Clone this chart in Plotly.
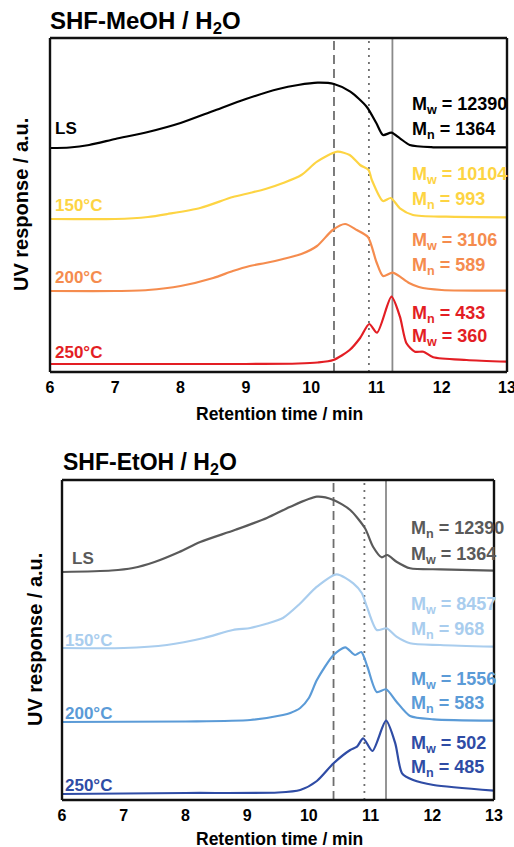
import plotly.graph_objects as go

FONT = "Liberation Sans, Arial, sans-serif"

# ---------------- Top panel: SHF-MeOH / H2O ----------------
top_ls_x = [6, 6.3, 6.6, 7.0, 7.5, 8.0, 8.5, 9.0, 9.5, 9.8, 10.1, 10.35, 10.6, 10.85, 11.0, 11.1, 11.23, 11.36, 11.51, 11.87, 12.5, 13]
top_ls_y = [224, 224.5, 227, 233, 240, 249, 261, 273, 283, 287, 289.3, 288, 280.3, 265.3, 248.7, 237, 239.3, 233.7, 227, 224.7, 224.7, 224.7]

top_150_x = [6, 7, 7.5, 7.8, 8.3, 8.8, 9.06, 9.3, 9.57, 9.85, 10.09, 10.4, 10.59, 10.75, 10.88, 10.93, 11.1, 11.22, 11.36, 11.56, 12.07, 13]
top_150_y = [153, 153, 155, 158, 164, 175, 179, 183, 189, 197, 210.3, 220.3, 217, 207, 202, 192, 171, 174, 163.7, 157, 155.3, 154.7]

top_200_x = [6, 7, 7.5, 8.0, 8.5, 8.8, 9.06, 9.3, 9.57, 9.85, 10.09, 10.33, 10.52, 10.7, 10.87, 11.0, 11.1, 11.25, 11.5, 11.65, 12, 13]
top_200_y = [81, 81, 82, 86, 94, 101, 106, 109, 113, 118, 126, 142, 148, 142, 135, 110, 96, 99.3, 89, 85, 82, 81.3]

top_250_x = [6, 9, 9.8, 10.1, 10.34, 10.59, 10.75, 10.89, 11.01, 11.23, 11.36, 11.46, 11.59, 11.72, 11.87, 12.38, 13]
top_250_y = [8, 8, 8.5, 9.5, 12, 22, 34, 48, 39.3, 75.3, 55.3, 28.7, 20.3, 20.3, 14.7, 12, 10.3]

top_names = ["LS", "150°C", "200°C", "250°C"]
top_colors = ["#000000", "#FDD443", "#F58C4E", "#E31E24"]
top_mass_1 = ["M<sub>w</sub> = 12390", "M<sub>w</sub> = 10104", "M<sub>w</sub> = 3106", "M<sub>n</sub> = 433"]
top_mass_2 = ["M<sub>n</sub> = 1364", "M<sub>n</sub> = 993", "M<sub>n</sub> = 589", "M<sub>w</sub> = 360"]
top_name_y = [244, 167, 95, 20]
top_mass_y1 = [267, 197, 131, 58]
top_mass_y2 = [242, 172, 106, 35]

# ---------------- Bottom panel: SHF-EtOH / H2O ----------------
bot_ls_x = [6, 6.8, 7.15, 7.5, 7.9, 8.24, 8.8, 9.32, 9.69, 10.13, 10.40, 10.67, 10.91, 11.04, 11.18, 11.27, 11.42, 11.64, 12.13, 13]
bot_ls_y = [228, 229.5, 232, 238, 248, 258, 270, 282, 293, 303.3, 300, 290, 271.7, 253.3, 242.7, 245, 238.3, 231.7, 230.7, 229.3]

bot_150_x = [6, 7, 7.7, 8.3, 8.77, 9.05, 9.3, 9.58, 9.85, 10.13, 10.45, 10.72, 10.86, 10.94, 11.10, 11.26, 11.42, 11.64, 12.13, 13]
bot_150_y = [152, 152, 155, 162, 170, 172, 176, 182, 196, 213.3, 225.7, 216.7, 206.7, 193.3, 170, 171.7, 163.3, 156.7, 155, 153.3]

bot_200_x = [6, 8, 9.05, 9.58, 9.7, 9.86, 10.0, 10.13, 10.40, 10.59, 10.75, 10.85, 10.95, 11.1, 11.25, 11.42, 11.64, 12.02, 13]
bot_200_y = [78, 78.5, 80, 85, 87, 92, 102, 120, 145, 152.7, 145, 148, 133, 108, 110.7, 98.3, 84, 80.7, 79.3]

bot_250_x = [6, 8, 9.5, 9.86, 10.13, 10.40, 10.67, 10.78, 10.88, 11.03, 11.25, 11.40, 11.51, 11.69, 12.02, 13]
bot_250_y = [6, 7, 7.5, 10, 19, 36.7, 50, 53.3, 61.7, 49, 79.3, 56.7, 26.7, 20, 15, 9.3]

bot_names = ["LS", "150°C", "200°C", "250°C"]
bot_colors = ["#5A5A5A", "#A9CDEE", "#5B9BD7", "#2F4CA5"]
bot_mass_1 = ["M<sub>n</sub> = 12390", "M<sub>w</sub> = 8457", "M<sub>w</sub> = 1556", "M<sub>w</sub> = 502"]
bot_mass_2 = ["M<sub>w</sub> = 1364", "M<sub>n</sub> = 968", "M<sub>n</sub> = 583", "M<sub>n</sub> = 485"]
bot_name_y = [242, 160, 87, 15]
bot_mass_y1 = [271, 195, 120, 56]
bot_mass_y2 = [245, 170, 96, 32]

# reference retention times (vertical guide lines)
top_vlines = [10.35, 10.885, 11.245]
bot_vlines = [10.40, 10.90, 11.25]
vline_dash = ["9px,5px", "2px,5px", "solid"]
vline_color = ["#6E6E6E", "#6E6E6E", "#8A8A8A"]

W, H = 514, 847
def px(x):
    return x / W
def py(y):
    return 1 - y / H

# panel boxes in pixels: (left, right, top, bottom)
top_box = (50, 507, 38, 372)
bot_box = (62, 494, 480, 800)

fig = go.Figure()

top_series = [(top_ls_x, top_ls_y), (top_150_x, top_150_y), (top_200_x, top_200_y), (top_250_x, top_250_y)]
bot_series = [(bot_ls_x, bot_ls_y), (bot_150_x, bot_150_y), (bot_200_x, bot_200_y), (bot_250_x, bot_250_y)]

for (xs, ys), name, col in zip(top_series, top_names, top_colors):
    fig.add_trace(go.Scatter(x=xs, y=ys, mode="lines", name=name, xaxis="x", yaxis="y",
                             line=dict(color=col, width=2.2, shape="spline", smoothing=0.7),
                             showlegend=False))
for (xs, ys), name, col in zip(bot_series, bot_names, bot_colors):
    fig.add_trace(go.Scatter(x=xs, y=ys, mode="lines", name=name, xaxis="x2", yaxis="y2",
                             line=dict(color=col, width=2.2, shape="spline", smoothing=0.7),
                             showlegend=False))

shapes = []
for xv, d, c in zip(top_vlines, vline_dash, vline_color):
    shapes.append(dict(type="line", xref="x", yref="y domain", x0=xv, x1=xv, y0=0, y1=1,
                       line=dict(color=c, width=1.8, dash=d), layer="below"))
for xv, d, c in zip(bot_vlines, vline_dash, vline_color):
    shapes.append(dict(type="line", xref="x2", yref="y2 domain", x0=xv, x1=xv, y0=0, y1=1,
                       line=dict(color=c, width=1.8, dash=d), layer="below"))
# panel frames as four line shapes in paper coordinates
for (l, r, t, b) in [top_box, bot_box]:
    x0, x1, y0, y1 = px(l), px(r), py(b), py(t)
    for (a, bb, c, d) in [(x0, y0, x1, y0), (x0, y1, x1, y1), (x0, y0, x0, y1), (x1, y0, x1, y1)]:
        shapes.append(dict(type="line", xref="paper", yref="paper", x0=a, y0=bb, x1=c, y1=d,
                           line=dict(color="#111111", width=2.4), layer="above"))

ann = []
LBL = 17
MLBL = 18
for name, col, yv, m1, m2, y1, y2 in zip(top_names, top_colors, top_name_y, top_mass_1, top_mass_2, top_mass_y1, top_mass_y2):
    ann.append(dict(x=6.05, y=yv, xref="x", yref="y", text=f"<b>{name}</b>", showarrow=False,
                    xanchor="left", yanchor="middle", font=dict(family=FONT, size=LBL, color=col)))
    ann.append(dict(x=11.51, y=y1, xref="x", yref="y", text=f"<b>{m1}</b>", showarrow=False,
                    xanchor="left", yanchor="middle", font=dict(family=FONT, size=MLBL, color=col)))
    ann.append(dict(x=11.51, y=y2, xref="x", yref="y", text=f"<b>{m2}</b>", showarrow=False,
                    xanchor="left", yanchor="middle", font=dict(family=FONT, size=MLBL, color=col)))
for name, col, yv, m1, m2, y1, y2 in zip(bot_names, bot_colors, bot_name_y, bot_mass_1, bot_mass_2, bot_mass_y1, bot_mass_y2):
    xn = 6.13 if name == "LS" else 6.02
    ann.append(dict(x=xn, y=yv, xref="x2", yref="y2", text=f"<b>{name}</b>", showarrow=False,
                    xanchor="left", yanchor="middle", font=dict(family=FONT, size=LBL, color=col)))
    ann.append(dict(x=11.62, y=y1, xref="x2", yref="y2", text=f"<b>{m1}</b>", showarrow=False,
                    xanchor="left", yanchor="middle", font=dict(family=FONT, size=MLBL, color=col)))
    ann.append(dict(x=11.62, y=y2, xref="x2", yref="y2", text=f"<b>{m2}</b>", showarrow=False,
                    xanchor="left", yanchor="middle", font=dict(family=FONT, size=MLBL, color=col)))

# panel titles
ann.append(dict(x=px(48), y=py(22), xref="paper", yref="paper", text="<b>SHF-MeOH / H<sub>2</sub>O</b>",
                showarrow=False, xanchor="left", yanchor="middle", font=dict(family=FONT, size=24, color="black")))
ann.append(dict(x=px(61), y=py(463), xref="paper", yref="paper", text="<b>SHF-EtOH / H<sub>2</sub>O</b>",
                showarrow=False, xanchor="left", yanchor="middle", font=dict(family=FONT, size=23, color="black")))
# axis titles
ann.append(dict(x=px(279), y=py(414), xref="paper", yref="paper", text="<b>Retention time / min</b>",
                showarrow=False, xanchor="center", yanchor="middle", font=dict(family=FONT, size=17.5, color="black")))
ann.append(dict(x=px(279), y=py(839), xref="paper", yref="paper", text="<b>Retention time / min</b>",
                showarrow=False, xanchor="center", yanchor="middle", font=dict(family=FONT, size=17.5, color="black")))
ann.append(dict(x=px(21), y=py(205), xref="paper", yref="paper", text="<b>UV response / a.u.</b>", textangle=-90,
                showarrow=False, xanchor="center", yanchor="middle", font=dict(family=FONT, size=20, color="black")))
ann.append(dict(x=px(35), y=py(640), xref="paper", yref="paper", text="<b>UV response / a.u.</b>", textangle=-90,
                showarrow=False, xanchor="center", yanchor="middle", font=dict(family=FONT, size=20, color="black")))

base = dict(range=[6, 13], dtick=1, tick0=6, showgrid=False, zeroline=False, showline=False)
# label axes (no tick marks)
xlabels = dict(ticks="", ticklabelstandoff=4, ticklabeloverflow="allow",
               tickfont=dict(family=FONT, size=16, color="black", weight="bold"), **base)
# tick-mark axes: free-positioned at the frame edges, outside ticks pointing into the panel
marks = dict(ticks="outside", ticklen=5, tickwidth=2, tickcolor="#111111", showticklabels=False,
             minor=dict(dtick=0.5, ticks="outside", ticklen=3, tickwidth=2, tickcolor="#111111"), **base)
ycommon = dict(showline=False, showgrid=False, zeroline=False, showticklabels=False, ticks="")

fig.update_layout(
    width=W, height=H, margin=dict(l=0, r=0, t=0, b=0, autoexpand=False),
    paper_bgcolor="white", plot_bgcolor="rgba(0,0,0,0)",
    xaxis=dict(domain=[px(top_box[0]), px(top_box[1])], anchor="y", **xlabels),
    yaxis=dict(domain=[py(top_box[3]), py(top_box[2])], anchor="x", range=[0, 334], **ycommon),
    xaxis2=dict(domain=[px(bot_box[0]), px(bot_box[1])], anchor="y2", **xlabels),
    yaxis2=dict(domain=[py(bot_box[3]), py(bot_box[2])], anchor="x2", range=[0, 320], **ycommon),
    xaxis3=dict(overlaying="x", anchor="free", position=py(top_box[3]), side="top", **marks),
    xaxis5=dict(overlaying="x", anchor="free", position=py(top_box[2]), side="bottom", **marks),
    xaxis4=dict(overlaying="x2", anchor="free", position=py(bot_box[3]), side="top", **marks),
    xaxis6=dict(overlaying="x2", anchor="free", position=py(bot_box[2]), side="bottom", **marks),
    shapes=shapes, annotations=ann, showlegend=False,
)

fig.write_html("out.html", config={"displayModeBar": False},
               post_script="document.body.style.margin='0px';document.body.style.overflow='hidden';")
